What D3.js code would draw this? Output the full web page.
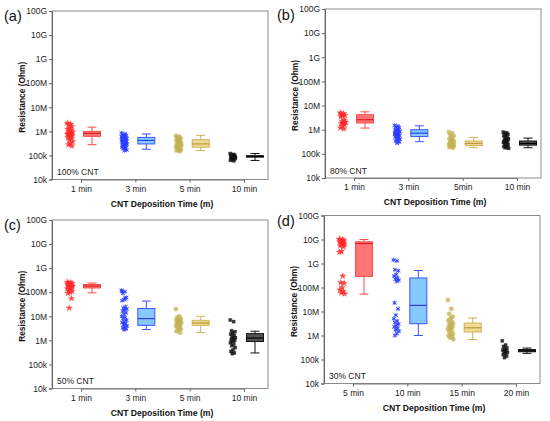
<!DOCTYPE html>
<html><head><meta charset="utf-8">
<script src="https://cdn.jsdelivr.net/npm/d3@7/dist/d3.min.js"></script>
<style>body{margin:0;background:#fff}svg{display:block;font-family:"Liberation Sans",Arial,sans-serif}</style>
</head><body>
<svg id="c" width="550" height="421"></svg>
<script>
// ---- tick labels ----
const yTickValues = [1e4,1e5,1e6,1e7,1e8,1e9,1e10,1e11];
const yTickLabels = ["10k","100k","1M","10M","100M","1G","10G","100G"];
const catsA = ["1 min","3 min","5 min","10 min"];
const catsB = ["1 min","3 min","5min","10 min"];
const catsC = ["1 min","3 min","5 min","10 min"];
const catsD = ["5 min","10 min","15 min","20 min"];
const panelTags = ["(a)","(b)","(c)","(d)"];
const panelNotes = ["100% CNT","80% CNT","50% CNT","30% CNT"];

// ---- scatter values (Ohm) ----
const a1 = [2.2e6,2.0e6,1.9e6,1.6e6,1.4e6,1.25e6,1.1e6,1.0e6,9.5e5,9e5,8.5e5,8e5,7.8e5,7.5e5,7.2e5,7e5,6.6e5,6.2e5,5.5e5,5e5,4.5e5,3.8e5,3.2e5,2.8e5,2.5e5];
const a3 = [8.5e5,7.8e5,7.2e5,6.8e5,6.4e5,6e5,5.7e5,5.4e5,5.1e5,4.9e5,4.7e5,4.5e5,4.3e5,4.1e5,4e5,3.8e5,3.7e5,3.5e5,3.4e5,3.2e5,3.1e5,3e5,2.8e5,2.7e5,2.5e5,2.4e5,2.2e5,2e5,1.9e5,1.7e5,1.6e5,4.4e5,3.9e5,3.3e5,5.8e5,2.9e5];
const a5 = [6.5e5,6e5,5.5e5,5e5,4.6e5,4.2e5,3.9e5,3.6e5,3.3e5,3.1e5,2.9e5,2.7e5,2.5e5,2.3e5,2.1e5,2e5,1.8e5,1.7e5,1.6e5,1.5e5,3.5e5,2.6e5];
const a10 = [1.2e5,1.1e5,1.05e5,1e5,9.5e4,9e4,8.7e4,8.4e4,8e4,7.7e4,7.4e4,7e4,6.7e4,6.3e4,6e4,9.2e4,8.2e4];

const b1 = [5e6,4.6e6,4.3e6,4e6,3.8e6,3.5e6,2.5e6,2.2e6,2e6,1.9e6,1.8e6,1.6e6,1.4e6,1.2e6,1.1e6,4.1e6,2.1e6];
const b3 = [1.5e6,1.4e6,1.3e6,1.2e6,1.1e6,1e6,9.5e5,9e5,8.5e5,8e5,7.6e5,7.2e5,6.8e5,6.5e5,6.2e5,5.9e5,5.6e5,5.3e5,5e5,4.7e5,4.4e5,4e5,3.7e5,3.4e5,3.1e5,2.8e5,7e5,6e5];
const b5 = [8e5,7e5,6.2e5,5.5e5,4.8e5,4.2e5,3.8e5,3.5e5,3.2e5,3e5,2.8e5,2.6e5,2.5e5,2.4e5,2.3e5,2.2e5,2.1e5,2e5,1.9e5,1.8e5];
const b10 = [8e5,7.5e5,7e5,6.5e5,6e5,5.5e5,5e5,4.5e5,4.2e5,3.9e5,3.6e5,3.4e5,3.2e5,3e5,2.8e5,2.6e5,2.4e5,2.2e5,2e5,1.9e5,1.8e5,1.7e5];

const c1 = [2.6e8,2.5e8,2.4e8,2.3e8,2.2e8,2.1e8,2e8,1.9e8,1.8e8,1.75e8,1.7e8,1.6e8,1.5e8,1.4e8,1.3e8,1.2e8,1.1e8,1e8,9e7,5.5e7,2.2e7];
const c3 = [1.2e8,1.05e8,9e7,6e7,5e7,4.5e7,2.5e7,2.2e7,2e7,1.8e7,1.6e7,1.4e7,1.2e7,1e7,9e6,8e6,7e6,6e6,5.5e6,5e6,4.5e6,4e6,3.6e6,3.3e6,3e6,2.8e6,1.1e8,5.5e7];
const c5 = [2e7,1e7,9e6,8e6,7.5e6,7e6,6.5e6,6e6,5.6e6,5.3e6,5e6,4.7e6,4.4e6,4e6,3.7e6,3.4e6,3e6,2.7e6,2.4e6,2.1e6];
const c10 = [7e6,6e6,2.5e6,2.3e6,2e6,1.8e6,1.6e6,1.4e6,1.3e6,1.2e6,1.1e6,1e6,9e5,8e5,7e5,6e5,5e5,4e5,3.5e5,3e5,2.8e5];

const d5 = [1.05e10,1e10,9.5e9,9e9,8.5e9,8e9,7.5e9,7e9,6.5e9,6e9,5.5e9,5e9,3.2e9,3e9,3e8,1.6e8,1.5e8,1e8,8e7,7e7,6e7,5.5e7];
const d10 = [1.4e9,1.3e9,5.5e8,5e8,3.5e8,3e8,2.5e8,2.2e8,2e8,1.8e8,2.3e7,1.3e7,7e6,5e6,4e6,3.5e6,3e6,2.6e6,2.3e6,2e6,1.7e6,1.5e6,1.2e6,1e6];
const d15 = [3e7,1.3e7,8e6,6e6,5e6,4.3e6,3.8e6,3.3e6,3e6,2.7e6,2.4e6,2.2e6,2e6,1.8e6,1.6e6,1.4e6,1.2e6,1.1e6,1e6,9e5,8e5,7e5];
const d20 = [6e5,4e5,3.5e5,3e5,2.7e5,2.5e5,2.3e5,2.1e5,2e5,1.8e5,1.6e5,1.4e5,1.2e5];

// ---- box statistics [whisker low, q1, median, q3, whisker high] ----
const boxA = [[2.8e5,6.2e5,8.2e5,1.0e6,1.5e6],[1.8e5,3e5,4.2e5,5.6e5,7.8e5],[1.6e5,2.2e5,3e5,4.5e5,6.8e5],[6.2e4,8.5e4,9.1e4,9.7e4,1.2e5]];
const boxB = [[1.17e6,1.9e6,2.6e6,4.2e6,5.5e6],[3.2e5,5.2e5,7.2e5,1e6,1.45e6],[1.8e5,2.2e5,2.7e5,3.4e5,4.8e5],[1.8e5,2.3e5,2.7e5,3.4e5,4.5e5]];
const boxC = [[9.4e7,1.5e8,1.8e8,2.1e8,2.4e8],[2.8e6,4.2e6,8e6,2.1e7,4.3e7],[2.1e6,4.2e6,5.3e6,6.8e6,1e7],[3e5,9e5,1.25e6,1.9e6,2.4e6]];
const boxD = [[5.3e7,2.9e8,6.8e9,8e9,1e10],[1e6,3.1e6,1.8e7,2.5e8,5.1e8],[6.8e5,1.4e6,2.1e6,3.3e6,5.4e6],[1.8e5,2.1e5,2.3e5,2.6e5,3e5]];

// ---- assemble ----
const panels = [
  {cats:catsA, pts:[a1,a3,a5,a10], box:boxA, x:52, top:11, bottom:179.5, tx:4, ty:21, tag:panelTags[0], note:panelNotes[0]},
  {cats:catsB, pts:[b1,b3,b5,b10], box:boxB, x:325, top:9, bottom:178, tx:277, ty:20, tag:panelTags[1], note:panelNotes[1]},
  {cats:catsC, pts:[c1,c3,c5,c10], box:boxC, x:52, top:220, bottom:388.5, tx:4, ty:230, tag:panelTags[2], note:panelNotes[2]},
  {cats:catsD, pts:[d5,d10,d15,d20], box:boxD, x:324, top:215.5, bottom:383.5, tx:277, ty:226, tag:panelTags[3], note:panelNotes[3]}
];
const W = 216;
const groupStyle = [
  {pt:"#ff2a2a", fill:"#ff6e6e", stroke:"#ff4a4a", med:"#e02020"},
  {pt:"#2a3dff", fill:"#7ec6ff", stroke:"#3a55ff", med:"#2a40e0"},
  {pt:"#c4b052", fill:"#efd88e", stroke:"#cdb45a", med:"#b89a38"},
  {pt:"#151515", fill:"#4a4a4a", stroke:"#111", med:"#000"}
];
const shapes = [d3.symbolStar, d3.symbolAsterisk, d3.symbolCircle, d3.symbolSquare];
const sizes = [13, 13, 14, 10];
const svg = d3.select("#c");

panels.forEach(p => {
  const H = p.bottom - p.top;
  const g = svg.append("g").attr("transform", `translate(${p.x},${p.top})`);
  const y = d3.scaleLog().domain([1e4,1e11]).range([H,0]);
  const x = d3.scalePoint().domain(p.cats).range([29,192]);

  g.append("rect").attr("x",0).attr("y",0).attr("width",W).attr("height",H)
    .attr("fill","none").attr("stroke","#8c8c8c").attr("stroke-width",1);

  const ya = g.append("g").call(d3.axisLeft(y).tickValues(yTickValues)
      .tickFormat((d,i)=>yTickLabels[i]).tickSize(3).tickPadding(2));
  ya.select(".domain").attr("stroke","#666");
  ya.selectAll(".tick line").attr("stroke","#666");
  ya.selectAll("text").attr("font-size",8.5).attr("fill","#222");

  const xa = g.append("g").attr("transform",`translate(0,${H})`)
    .call(d3.axisBottom(x).tickSize(3).tickPadding(3));
  xa.select(".domain").attr("stroke","#777");
  xa.selectAll(".tick line").attr("stroke","#666");
  xa.selectAll("text").attr("font-size",8.5).attr("fill","#222");

  g.append("text").attr("x",W/2+2).attr("y",H+27).attr("text-anchor","middle")
    .attr("font-size",8.6).attr("font-weight","bold").attr("fill","#111")
    .text("CNT Deposition Time (m)");
  g.append("text").attr("transform",`translate(-27,${H/2+2}) rotate(-90)`)
    .attr("text-anchor","middle").attr("font-size",8.4).attr("font-weight","bold").attr("fill","#111")
    .text("Resistance (Ohm)");
  svg.append("text").attr("x",p.tx).attr("y",p.ty).attr("font-size",14.5).attr("fill","#111").text(p.tag);
  g.append("text").attr("x",5).attr("y",H-4.5).attr("font-size",8.5).attr("fill","#222").text(p.note);

  p.cats.forEach((c,gi) => {
    const st = groupStyle[gi];
    const cx = x(c);
    const sx = cx - 11, bx = cx + 11;
    const vals = p.pts[gi];
    const jit = (i) => sx + (((i*0.618034)%1)-0.5)*5.5;
    const sym = d3.symbol().type(shapes[gi]).size(sizes[gi]);
    const pg = g.append("g");
    pg.selectAll("path").data(vals).join("path")
      .attr("d", sym)
      .attr("transform",(d,i)=>`translate(${jit(i)},${y(d)})`)
      .attr("fill", gi===1 ? "none" : st.pt)
      .attr("fill-opacity", gi===2 ? 0.75 : 0.85)
      .attr("stroke", st.pt)
      .attr("stroke-width", gi===1 ? 0.9 : (gi===2?0.5:0.3))
      .attr("stroke-opacity",0.85);
    if (gi===1) {
      pg.selectAll("path.x").data(vals).join("path").attr("class","x")
        .attr("d", d3.symbol().type(d3.symbolTimes).size(11))
        .attr("transform",(d,i)=>`translate(${jit(i)},${y(d)})`)
        .attr("fill","none").attr("stroke",st.pt).attr("stroke-width",0.8).attr("stroke-opacity",0.8);
    }

    const [lo,q1,md,q3,hi] = p.box[gi];
    const bw = 17, cw = 9;
    const bgp = g.append("g").attr("stroke",st.stroke).attr("stroke-width",1);
    bgp.append("line").attr("x1",bx).attr("x2",bx).attr("y1",y(hi)).attr("y2",y(q3));
    bgp.append("line").attr("x1",bx).attr("x2",bx).attr("y1",y(q1)).attr("y2",y(lo));
    bgp.append("line").attr("x1",bx-cw/2).attr("x2",bx+cw/2).attr("y1",y(hi)).attr("y2",y(hi));
    bgp.append("line").attr("x1",bx-cw/2).attr("x2",bx+cw/2).attr("y1",y(lo)).attr("y2",y(lo));
    bgp.append("rect").attr("x",bx-bw/2).attr("width",bw)
      .attr("y",y(q3)).attr("height",Math.max(1,y(q1)-y(q3)))
      .attr("fill",st.fill).attr("fill-opacity",0.95);
    bgp.append("line").attr("x1",bx-bw/2).attr("x2",bx+bw/2).attr("y1",y(md)).attr("y2",y(md))
      .attr("stroke",st.med).attr("stroke-width",1.2);
  });
});
</script>
</body></html>
